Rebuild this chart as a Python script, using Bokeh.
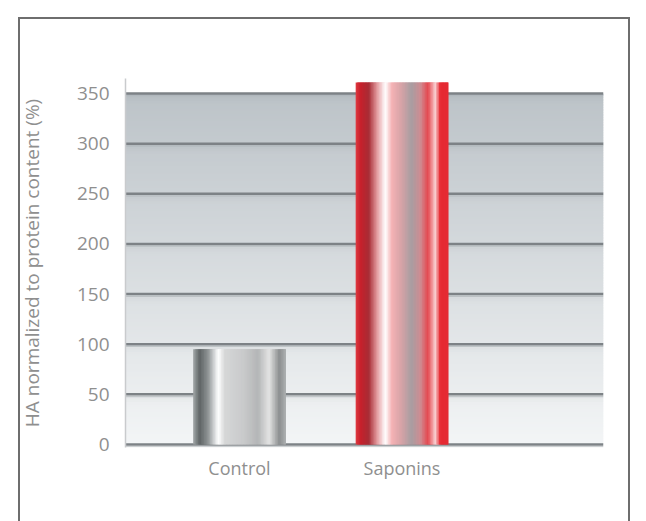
from bokeh.plotting import figure
from bokeh.models import Range1d, FixedTicker
from bokeh.embed import file_html
from bokeh.resources import INLINE

# ---- data ----
categories = ["Control", "Saponins"]
values = [95, 361]
y_ticks = [0, 50, 100, 150, 200, 250, 300, 350]
y_label = "HA normalized to protein content (%)"

# ---- style helpers ----
def hex2rgb(h):
    h = h.lstrip("#")
    return [int(h[i:i + 2], 16) for i in (0, 2, 4)]

def rgb2hex(c):
    return "#%02x%02x%02x" % tuple(max(0, min(255, int(round(v)))) for v in c)

def interp(stops, t):
    for (t0, c0), (t1, c1) in zip(stops[:-1], stops[1:]):
        if t0 <= t <= t1:
            f = 0 if t1 == t0 else (t - t0) / (t1 - t0)
            a, b = hex2rgb(c0), hex2rgb(c1)
            return rgb2hex([a[i] + (b[i] - a[i]) * f for i in range(3)])
    return stops[-1][1]

ctrl_stops = [(0.0, "#a3a8a9"), (0.07, "#5e6465"), (0.16, "#8f9495"), (0.27, "#ffffff"),
              (0.34, "#d6d7d7"), (0.55, "#c8c9ca"), (0.70, "#b4b6b7"), (0.82, "#e4e4e4"),
              (0.93, "#8b8e8f"), (1.0, "#aeb1b2")]
sap_stops = [(0.0, "#e03a42"), (0.05, "#c8202b"), (0.14, "#a82c35"), (0.24, "#e8a6aa"),
             (0.32, "#ffffff"), (0.39, "#f4b2b5"), (0.50, "#d4a2a6"), (0.60, "#a89ea2"),
             (0.70, "#cf8c92"), (0.78, "#e4474f"), (0.86, "#f9d0d2"), (0.91, "#e62a33"),
             (1.0, "#e42a33")]
bar_stops = [ctrl_stops, sap_stops]

x_start, x_end = -0.7015, 2.24
y_start, y_end = -3, 365

p = figure(width=630, height=504, x_range=Range1d(x_start, x_end), y_range=Range1d(y_start, y_end),
           output_backend="svg", toolbar_location=None,
           min_border_left=125, min_border_right=27, min_border_top=61, min_border_bottom=74)
p.outline_line_color = None
p.xgrid.visible = False
p.ygrid.visible = False
p.background_fill_color = "white"
p.border_fill_color = None
p.margin = (17, 0, 0, 0)
line_c = "linear-gradient(#6e6e6e, #6e6e6e)"
p.styles = {
    "background-image": ", ".join([line_c] * 3),
    "background-size": "2px 100%, 2px 100%, 612px 2px",
    "background-position": "18px 0px, 628px 0px, 18px 0px",
    "background-repeat": "no-repeat",
}

# background gradient bands between grid lines
top_c, bot_c = hex2rgb("#bcc3c8"), hex2rgb("#f3f5f6")
b_bottom, b_top, b_col = [], [], []
step = 2.5
ymax = y_ticks[-1]
y = 0.0
while y < ymax - 1e-9:
    t = (y + step / 2) / ymax
    c = [bot_c[i] + (top_c[i] - bot_c[i]) * t for i in range(3)]
    frac = ((y + step / 2) % 50) / 50.0
    if frac > 0.8:
        c = [v - 8 * (frac - 0.8) / 0.2 for v in c]
    b_bottom.append(y)
    b_top.append(min(y + step * 1.8, ymax))
    b_col.append(rgb2hex(c))
    y += step
p.quad(left=x_start, right=x_end, bottom=b_bottom, top=b_top, fill_color=b_col, line_color=None)

# grid lines
p.segment(x0=[x_start] * len(y_ticks), x1=[x_end] * len(y_ticks), y0=y_ticks, y1=y_ticks,
          line_color="#7d8286", line_width=2.5)
p.segment(x0=[x_start] * len(y_ticks), x1=[x_end] * len(y_ticks), y0=[v - 2.2 for v in y_ticks],
          y1=[v - 2.2 for v in y_ticks], line_color="#aab0b4", line_width=1.2, line_alpha=0.6)

# cylindrical bars built from thin overlapping strips
N = 60
bw = 0.57
sl, sr, stop, scol = [], [], [], []
for i, v in enumerate(values):
    left = i - bw / 2
    right = i + bw / 2
    for k in range(N):
        t = (k + 0.5) / N
        sl.append(left + k * bw / N)
        sr.append(min(left + (k + 2.2) * bw / N, right))
        stop.append(v)
        scol.append(interp(bar_stops[i], t))
p.quad(left=sl, right=sr, top=stop, bottom=0, fill_color=scol, line_color=None)

# axes
p.yaxis.ticker = FixedTicker(ticks=y_ticks)
p.yaxis.axis_line_color = "#c9cbcd"
p.yaxis.axis_line_width = 1.5
p.yaxis.major_tick_line_color = None
p.yaxis.minor_tick_line_color = None
p.yaxis.major_tick_out = 0
p.yaxis.major_tick_in = 0
p.yaxis.major_label_standoff = 16
p.yaxis.major_label_text_font = "Open Sans"
p.yaxis.major_label_text_font_size = "19px"
p.yaxis.major_label_text_color = "#8f8f8f"
p.yaxis.axis_label = y_label
p.yaxis.axis_label_text_font = "Open Sans"
p.yaxis.axis_label_text_font_style = "normal"
p.yaxis.axis_label_text_font_size = "19px"
p.yaxis.axis_label_text_color = "#8f8f8f"
p.yaxis.axis_label_standoff = 29

p.xaxis.ticker = FixedTicker(ticks=list(range(len(categories))))
p.xaxis.major_label_overrides = {i: c for i, c in enumerate(categories)}
p.xaxis.axis_line_color = None
p.xaxis.major_tick_line_color = None
p.xaxis.minor_tick_line_color = None
p.xaxis.major_tick_out = 0
p.xaxis.major_tick_in = 0
p.xaxis.major_label_standoff = 8
p.xaxis.major_label_text_font = "Open Sans"
p.xaxis.major_label_text_font_size = "18px"
p.xaxis.major_label_text_color = "#8f8f8f"

open("out.html", "w").write(file_html(p, INLINE))
